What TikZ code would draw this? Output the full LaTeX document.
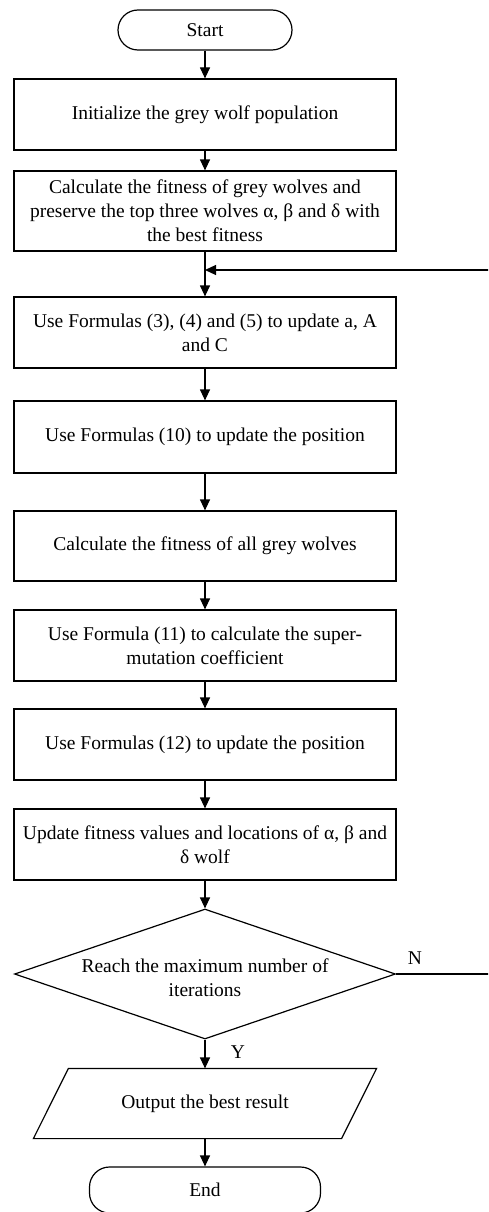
\documentclass[tikz,border=0pt]{standalone}
\usepackage{fontspec}
\setmainfont{Liberation Serif}
\usetikzlibrary{arrows.meta,shapes.geometric}
\begin{document}
\begin{tikzpicture}[x=1pt,y=-1pt,
  font=\fontsize{19.5}{24}\selectfont,
  line width=1.2pt,
  proc/.style={draw, rectangle, minimum width=382pt, inner sep=0pt, align=center},
  term/.style={draw, rectangle, rounded corners=20pt, minimum height=40pt, inner sep=0pt},
  arr/.style={-{Triangle[length=11pt,width=10pt]}},
  lbl/.style={inner sep=0pt}]
\useasboundingbox (0,0) rectangle (488,1212);
\clip (0,0) rectangle (488,1212);
\node[term, minimum width=174pt] (start) at (205,30) {Start};
\node[proc, minimum height=71pt] (b1) at (205,114.5) {Initialize the grey wolf population};
\node[proc, minimum height=80pt] (b2) at (205,211) {Calculate the fitness of grey wolves and\\preserve the top three wolves α, β and δ with\\the best fitness};
\node[proc, minimum height=71pt] (b3) at (205,332.5) {Use Formulas (3), (4) and (5) to update a, A\\and C};
\node[proc, minimum height=72pt] (b4) at (205,437) {Use Formulas (10) to update the position};
\node[proc, minimum height=70pt] (b5) at (205,546) {Calculate the fitness of all grey wolves};
\node[proc, minimum height=71pt] (b6) at (205,645.5) {Use Formula (11) to calculate the super-\\mutation coefficient};
\node[proc, minimum height=71pt] (b7) at (205,744.5) {Use Formulas (12) to update the position};
\node[proc, minimum height=71pt] (b8) at (205,844.5) {Update fitness values and locations of α, β and\\δ wolf};
\node[draw, diamond, minimum width=381pt, minimum height=130pt, inner sep=0pt] (dec) at (205,974) {};
\node[lbl, align=center] (dect) at (205,978) {Reach the maximum number of\\iterations};
\node[minimum width=307pt, minimum height=69pt, inner sep=0pt] (out) at (205,1103.5) {Output the best result};
\draw ([xshift=17.5pt]out.north west) -- ([xshift=17.5pt]out.north east) -- ([xshift=-17.5pt]out.south east) -- ([xshift=-17.5pt]out.south west) -- cycle;
\node[term, minimum width=231pt, minimum height=46pt] (end) at (205,1190) {End};
\node[lbl] (nlab) at (415,958) {N};
\node[lbl] (ylab) at (238,1052) {Y};
\coordinate (fb) at (205,270);
\coordinate (fbr) at (492,974);
\draw[arr] (start) -- (b1);
\draw[arr] (b1) -- (b2);
\draw[arr] (b2) -- (b3);
\draw[arr] (b3) -- (b4);
\draw[arr] (b4) -- (b5);
\draw[arr] (b5) -- (b6);
\draw[arr] (b6) -- (b7);
\draw[arr] (b7) -- (b8);
\draw[arr] (b8) -- (dec);
\draw[arr] (dec) -- (out);
\draw[arr] (out) -- (end);
\draw[arr] (dec.east) -- (fbr) |- (fb);
\end{tikzpicture}
\end{document}
